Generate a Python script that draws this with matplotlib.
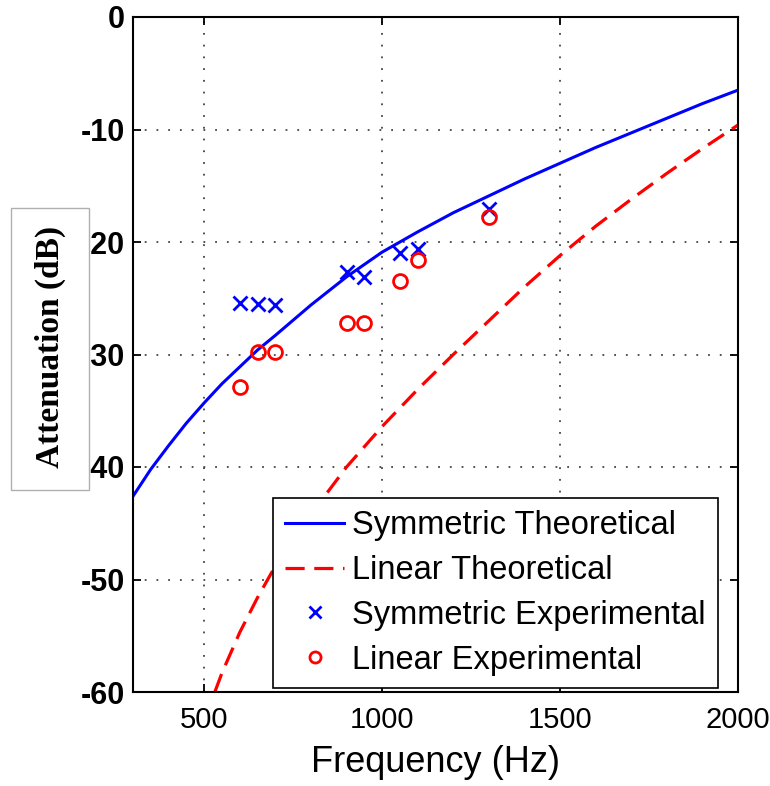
import matplotlib.pyplot as plt
from matplotlib.patches import Rectangle

plt.rcParams['axes.unicode_minus'] = False
plt.rcParams['font.family'] = ['Liberation Sans', 'DejaVu Sans']

# theoretical curves
freq_theory = [300, 350, 400, 450, 500, 550, 600, 650, 700, 800, 900, 1000, 1100, 1200,
               1300, 1400, 1500, 1600, 1700, 1800, 1900, 2000]
sym_theory = [-42.6, -40.2, -38.1, -36.1, -34.3, -32.6, -31.1, -29.6, -28.3, -25.6, -23.1, -20.9,
              -19.1, -17.4, -15.9, -14.4, -13.0, -11.6, -10.3, -9.0, -7.7, -6.5]
freq_lin = [530, 550, 600, 650, 700, 750, 800, 900, 1000, 1100, 1200, 1300, 1400,
            1500, 1600, 1700, 1800, 1900, 2000]
lin_theory = [-60.0, -58.3, -54.7, -51.6, -48.8, -46.4, -44.2, -40.0, -36.4, -33.1, -30.0,
              -27.0, -24.0, -21.2, -18.6, -16.2, -13.9, -11.7, -9.6]

# measurements
freq_exp = [600, 650, 700, 900, 950, 1050, 1100, 1300]
sym_exp = [-25.4, -25.5, -25.6, -22.7, -23.1, -21.0, -20.6, -17.1]
lin_exp = [-32.9, -29.8, -29.8, -27.2, -27.2, -23.5, -21.6, -17.8]

fig = plt.figure(figsize=(7.7, 7.86), dpi=100, facecolor='white')
ax = fig.add_axes([133 / 770, 94 / 786, 605 / 770, 675 / 786])

ax.plot(freq_theory, sym_theory, color='#0000ff', lw=2.2, label='Symmetric Theoretical')
ax.plot(freq_lin, lin_theory, color='#ff0000', lw=2.3, dashes=(6, 3), label='Linear Theoretical')
ax.plot(freq_exp, sym_exp, 'x', color='#0000ff', ms=10, mew=2, label='Symmetric Experimental')
ax.plot(freq_exp, lin_exp, 'o', color='#ff0000', ms=10, mew=2, mfc='none', label='Linear Experimental')

ax.set_xlim(300, 2000)
ax.set_ylim(-60, 0)
ax.set_xticks([500, 1000, 1500, 2000])
ax.set_yticks([-60, -50, -40, -30, -20, -10, 0])
ax.grid(True, color='#444444', linestyle=(0, (1, 5.5)), linewidth=1.3)
ax.tick_params(direction='in', length=6, width=1.3, top=True, right=True, labelsize=22)
ax.tick_params(axis='x', pad=10, labelsize=21)
ax.tick_params(axis='y', pad=6)
for lab in ax.get_yticklabels():
    lab.set_fontweight('bold')
for s in ax.spines.values():
    s.set_linewidth(1.5)

ax.set_xlabel('Frequency (Hz)', fontsize=26, labelpad=8)

leg = ax.legend(loc='lower right', bbox_to_anchor=(0.967, 0.006), borderaxespad=0,
                fontsize=23.5, frameon=True, fancybox=False, edgecolor='black',
                handlelength=1.8, handletextpad=0.25, labelspacing=0.42,
                borderpad=0.38, markerscale=0.8)
leg.get_frame().set_linewidth(1.2)
leg.get_frame().set_alpha(1)

# boxed y label that sits over the minus signs
fig.add_artist(Rectangle((11 / 770, 1 - 490 / 786), 78 / 770, 282 / 786,
                         transform=fig.transFigure, facecolor='white',
                         edgecolor='#b0b0b0', lw=1, zorder=5))
fig.text(50 / 770, 1 - 347 / 786, 'Attenuation (dB)', rotation=90, ha='center', va='center',
         fontsize=24, fontweight='bold', family='Liberation Serif', zorder=6)

fig.savefig('out.png', dpi=100, facecolor='white')
